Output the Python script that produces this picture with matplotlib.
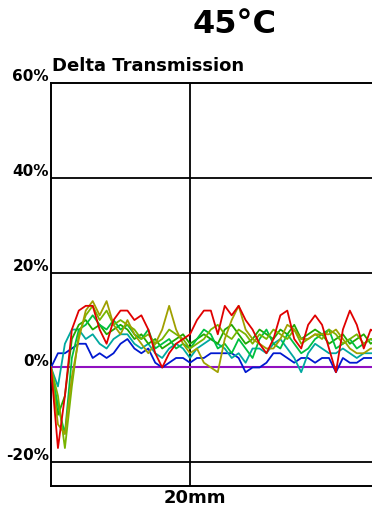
import matplotlib
matplotlib.use("Agg")
import matplotlib.pyplot as plt
import matplotlib.transforms as mtransforms

# Position along the sample (mm)
position_mm = list(range(0, 48))

# Delta transmission (%) per trace
red = [0, -17, -6, 8, 12, 13, 13, 8, 5, 10, 12, 12, 10, 11, 8, 3, 0, 3, 5, 6,
       7, 10, 12, 12, 7, 13, 11, 13, 10, 8, 5, 3, 6, 11, 12, 6, 4, 9, 11, 9,
       4, -1, 8, 12, 9, 4, 8, 7]
olive = [0, -12, -14, -2, 6, 12, 14, 11, 14, 9, 7, 10, 7, 5, 3, 5, 8, 13, 8, 5,
         3, 4, 1, 0, -1, 6, 10, 13, 8, 6, 5, 4, 4, 6, 9, 8, 6, 6, 7, 7,
         7, 8, 6, 4, 3, 3, 4, 4]
yellow_green = [0, -6, -17, -4, 7, 11, 13, 10, 12, 9, 10, 9, 8, 6, 7, 5, 6, 8, 7, 6,
                4, 5, 6, 8, 9, 7, 6, 8, 7, 5, 7, 6, 8, 7, 6, 8, 5, 6, 7, 6,
                8, 7, 5, 6, 7, 5, 6, 6]
green = [0, -10, -6, 6, 9, 10, 8, 9, 7, 8, 9, 8, 6, 7, 5, 6, 4, 5, 6, 7,
         5, 6, 7, 6, 5, 8, 9, 7, 5, 6, 8, 7, 6, 8, 7, 9, 6, 7, 8, 7,
         5, 6, 7, 5, 6, 7, 5, 6]
light_green = [0, -8, -14, 2, 8, 9, 11, 9, 8, 10, 8, 9, 7, 6, 8, 4, 5, 6, 4, 5,
               4, 6, 8, 7, 4, 5, 3, 6, 4, 2, 6, 8, 5, 4, 7, 5, 3, 4, 6, 7,
               8, 4, 5, 6, 4, 5, 6, 5]
teal = [0, -4, 5, 8, 8, 6, 7, 5, 4, 6, 7, 7, 5, 4, 5, 3, 2, 4, 5, 4,
        2, 4, 5, 6, 5, 4, 2, 3, 1, 4, 4, 3, 5, 6, 4, 2, -1, 3, 5, 4,
        3, 3, 4, 3, 2, 3, 3, 3]
blue = [0, 3, 3, 4, 5, 5, 2, 3, 2, 3, 5, 6, 4, 3, 4, 1, 0, 1, 2, 2,
        1, 2, 2, 3, 3, 3, 3, 2, -1, 0, 0, 1, 3, 3, 2, 1, 2, 2, 1, 2,
        2, -1, 2, 1, 1, 2, 2, 2]

traces = [
    (blue, "#0018d0"),
    (teal, "#00a8a0"),
    (green, "#20a800"),
    (light_green, "#00c040"),
    (yellow_green, "#78b400"),
    (olive, "#a0a000"),
    (red, "#e00000"),
]

y_ticks = [60, 40, 20, 0, -20]
y_tick_labels = ["60%", "40%", "20%", "0%", "-20%"]
x_marker = 20
x_marker_label = "20mm"

W, H = 372, 508
fig = plt.figure(figsize=(W / 100, H / 100), dpi=100)
left_px, right_px, top_px, bottom_px = 51, 400, 83, 486
ax = fig.add_axes([left_px / W, 1 - bottom_px / H,
                   (right_px - left_px) / W, (bottom_px - top_px) / H])
ax.set_xlim(0, (right_px - left_px) / 6.95)
ax.set_ylim(-25, 60)
ax.set_xticks([])
ax.set_yticks([])
for side in ("left", "bottom", "top", "right"):
    ax.spines[side].set_linewidth(1.4)
    ax.spines[side].set_color("black")

# grid
for v in y_ticks[1:]:
    if v != 0:
        ax.axhline(v, color="black", lw=1.3, zorder=1)
ax.axvline(x_marker, color="black", lw=1.3, zorder=1)

# zero reference
ax.axhline(0, color="#9010c0", lw=1.5, zorder=2)

for vals, col in traces:
    ax.plot(position_mm, vals, color=col, lw=1.3, zorder=3)

font = dict(family="DejaVu Sans", weight="bold")

# y labels sit just above their gridlines, right-aligned to the axis
lab_tr = mtransforms.blended_transform_factory(ax.transAxes, ax.transData) + \
    mtransforms.ScaledTranslation(-2 / 100, 0, fig.dpi_scale_trans)
for v, t in zip(y_ticks, y_tick_labels):
    ax.text(0, v + 0.4, t, transform=lab_tr, ha="right", va="baseline",
            fontsize=11, clip_on=False, **font)

ax.text(x_marker + 0.7, -25.6, x_marker_label, ha="center", va="top",
        fontsize=13, clip_on=False, **font)

fig.text(52 / W, 1 - 71 / H, "Delta Transmission", ha="left", va="baseline",
         fontsize=13, **font)
fig.text(235 / W, 1 - 33 / H, "45°C", ha="center", va="baseline",
         fontsize=23, **font)

fig.savefig("out.png", dpi=100)
